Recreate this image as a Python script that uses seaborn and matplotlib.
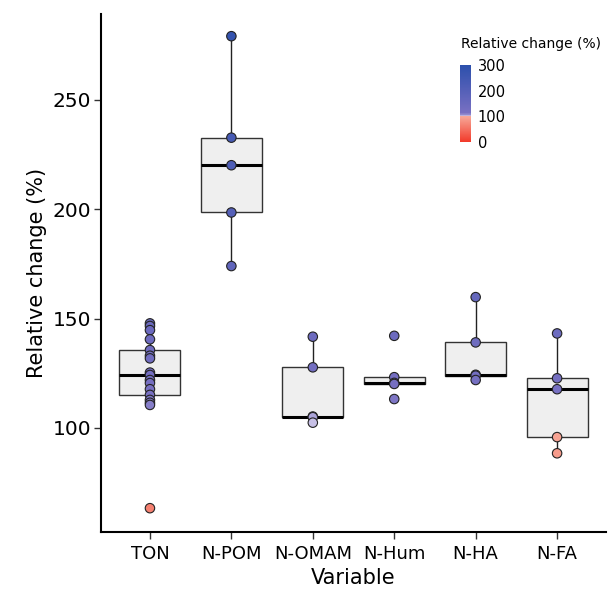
import numpy as np
import pandas as pd
import matplotlib
matplotlib.use("Agg")
import matplotlib.pyplot as plt
from matplotlib.colors import LinearSegmentedColormap, Normalize
from matplotlib.cm import ScalarMappable
import seaborn as sns

# values
categories = ["TON", "N-POM", "N-OMAM", "N-Hum", "N-HA", "N-FA"]
ton = [147.8, 146.6, 144.7, 140.5, 135.6, 133.0, 131.8, 125.3, 124.2,
       121.9, 120.5, 117.7, 115.1, 112.8, 111.5, 110.5, 63.3]
n_pom = [279.1, 232.7, 220.1, 198.5, 174.0]
n_omam = [141.7, 127.7, 105.2, 104.9, 102.4]
n_hum = [142.1, 123.2, 120.6, 120.1, 113.2]
n_ha = [159.8, 139.1, 124.3, 123.9, 121.9]
n_fa = [143.2, 122.7, 117.7, 95.8, 88.4]
cbar_ticks = [0, 100, 200, 300]

groups = [ton, n_pom, n_omam, n_hum, n_ha, n_fa]
df = pd.DataFrame({
    "Variable": np.repeat(categories, [len(g) for g in groups]),
    "value": np.concatenate(groups),
})

cmap = LinearSegmentedColormap.from_list("relchg", [
    (0.0, "#f23a2a"),
    (99.6 / 300, "#f7a898"),
    (100 / 300, "#e2dcf2"),
    (107 / 300, "#9189cd"),
    (115 / 300, "#7870c2"),
    (200 / 300, "#5560b8"),
    (1.0, "#2c50ac"),
])
norm = Normalize(0, 300)

sns.set_theme(style="white")
plt.rcParams["font.family"] = ["DejaVu Sans"]
plt.rcParams["text.color"] = "black"
plt.rcParams["axes.labelcolor"] = "black"
plt.rcParams["xtick.labelcolor"] = "black"
plt.rcParams["ytick.labelcolor"] = "black"

fig = plt.figure(figsize=(6.09, 6.03), dpi=100)
ax = fig.add_axes([0.166, 0.1177, 0.829, 0.8593])

sns.boxplot(data=df, x="Variable", y="value", order=categories, width=0.75,
            showfliers=False, showcaps=False, color="#efefef",
            linecolor="#333333", linewidth=1.0,
            boxprops=dict(facecolor="#efefef", edgecolor="#333333"),
            medianprops=dict(color="black", linewidth=2.2),
            whiskerprops=dict(color="#222222", linewidth=1.0), ax=ax)

sns.stripplot(data=df, x="Variable", y="value", order=categories,
              hue="value", palette=cmap, hue_norm=(0, 300), jitter=False,
              size=6.8, linewidth=0.8, edgecolor="#222222", legend=False,
              ax=ax, zorder=3)

ax.set_xlim(-0.6, 5.6)
ax.set_ylim(52.4, 289.3)
ax.set_yticks([100, 150, 200, 250])
ax.set_xlabel("Variable", fontsize=15)
ax.set_ylabel("Relative change (%)", fontsize=15)
ax.tick_params(axis="x", labelsize=13, length=5, width=1, color="#333333",
               bottom=True, pad=4)
ax.tick_params(axis="y", labelsize=14.5, length=5, width=1, color="#333333",
               left=True, pad=2)
for s in ["top", "right"]:
    ax.spines[s].set_visible(False)
for s in ["left", "bottom"]:
    ax.spines[s].set_color("black")
    ax.spines[s].set_linewidth(1.5)

# colour bar legend inside the panel
cax = fig.add_axes([0.755, 0.7645, 0.018, 0.1277])
cb = fig.colorbar(ScalarMappable(norm=norm, cmap=cmap), cax=cax,
                  ticks=cbar_ticks)
cb.outline.set_visible(False)
cax.tick_params(length=3, width=0.8, color="white", labelsize=10.5, pad=5,
                direction="in", labelcolor="black")
fig.text(0.757, 0.915, "Relative change (%)", fontsize=10, ha="left",
         va="bottom")

fig.savefig("out.png", dpi=100)
